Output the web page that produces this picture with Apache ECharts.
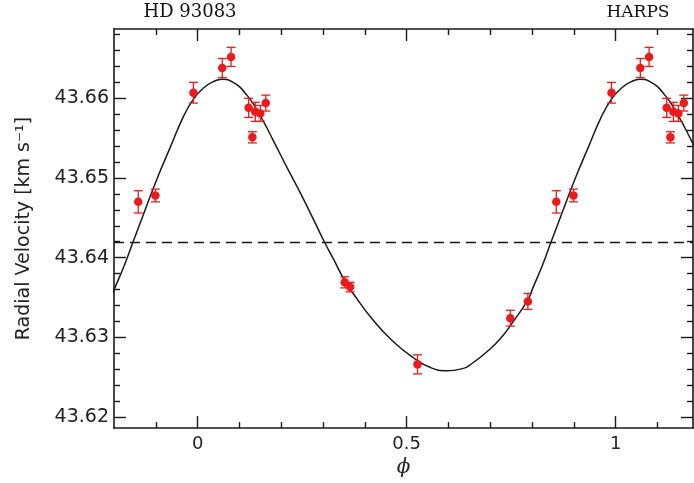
<!DOCTYPE html>
<html>
<head>
<meta charset="utf-8">
<script src="https://cdn.jsdelivr.net/npm/echarts@6/dist/echarts.min.js"></script>
<style>html,body{margin:0;padding:0;background:#fff;}#c{width:694px;height:483px;}</style>
</head>
<body>
<div id="c"></div>
<script>
// Observed data (phase in [0,1))
const phase = [0.059, 0.080, 0.122, 0.131, 0.138, 0.150, 0.163, 0.352, 0.365, 0.526, 0.748, 0.790, 0.858, 0.899, 0.990];
const rv    = [43.6638, 43.6652, 43.6588, 43.6551, 43.6583, 43.6581, 43.6594, 43.6369, 43.6363, 43.6266, 43.6324, 43.6345, 43.6470, 43.6478, 43.6607];
const rvErr = [0.0012, 0.0012, 0.0012, 0.0007, 0.0012, 0.0010, 0.0010, 0.0007, 0.0006, 0.0012, 0.0010, 0.0010, 0.0014, 0.0008, 0.0013];

// Fitted orbit curve over one period
const curvePhase = [0.014, 0.038, 0.058, 0.082, 0.118, 0.150, 0.182, 0.214, 0.246, 0.278, 0.304, 0.325, 0.356, 0.372, 0.419, 0.467, 0.517, 0.557, 0.597, 0.636, 0.651, 0.699, 0.730, 0.750, 0.790, 0.802, 0.826, 0.845, 0.871, 0.903, 0.935, 0.966, 0.990];
const curveRv    = [43.6613, 43.6621, 43.6624, 43.6621, 43.6604, 43.6578, 43.6546, 43.6513, 43.6481, 43.6447, 43.6419, 43.6398, 43.6367, 43.6355, 43.6322, 43.6295, 43.6274, 43.6262, 43.6258, 43.6261, 43.6265, 43.6285, 43.6302, 43.6316, 43.6347, 43.6362, 43.6392, 43.6419, 43.6455, 43.6499, 43.6539, 43.6577, 43.6599];

// Systemic velocity (dashed line)
const gamma = 43.6419;

// Axis ranges and ticks
const xMin = -0.2, xMax = 1.185;
const yMin = 43.6186, yMax = 43.6687;
const xMajorTicks = [0, 0.5, 1];
const xMinorTicks = [-0.1, 0.1, 0.2, 0.3, 0.4, 0.6, 0.7, 0.8, 0.9, 1.1];
const yMajorTicks = [43.62, 43.63, 43.64, 43.65, 43.66];
const yMinorTicks = [43.622, 43.624, 43.626, 43.628, 43.632, 43.634, 43.636, 43.638, 43.642, 43.644, 43.646, 43.648, 43.652, 43.654, 43.656, 43.658, 43.662, 43.664, 43.666, 43.668];

// Build plotted points: phase plus wrapped copies within the visible range
const pts = [];
phase.forEach((p, i) => {
  [p - 1, p, p + 1].forEach(q => {
    if (q >= xMin && q <= xMax) pts.push([q, rv[i], rvErr[i]]);
  });
});
// Curve repeated over neighbouring periods, sorted by phase
const curve = [];
curvePhase.forEach((p, i) => {
  [p - 1, p, p + 1].forEach(q => {
    if (q >= xMin - 0.03 && q <= xMax + 0.04) curve.push([q, curveRv[i]]);
  });
});
curve.sort((a, b) => a[0] - b[0]);

const ink = '#1a1a1a';
const red = '#ec1a1a';
const tickStyle = {color: ink, width: 1.4};

function xAxisDef(pos, vals, len, labels, line) {
  return {
    type: 'value', min: xMin, max: xMax, position: pos,
    axisLine: {show: line, onZero: false, lineStyle: {color: ink, width: 1.6}},
    axisTick: {show: true, inside: true, length: len, customValues: vals, lineStyle: tickStyle},
    axisLabel: labels ? {show: true, customValues: vals, color: '#222', fontSize: 18, fontFamily: 'DejaVu Sans', margin: 7,
      formatter: v => String(Math.round(v * 10) / 10)} : {show: false},
    splitLine: {show: false}
  };
}
function yAxisDef(pos, vals, len, labels, line) {
  return {
    type: 'value', min: yMin, max: yMax, position: pos,
    axisLine: {show: line, onZero: false, lineStyle: {color: ink, width: 1.6}},
    axisTick: {show: true, inside: true, length: len, customValues: vals, lineStyle: tickStyle},
    axisLabel: labels ? {show: true, customValues: vals, color: '#222', fontSize: 19, fontFamily: 'DejaVu Sans', margin: 5,
      formatter: v => v.toFixed(2)} : {show: false},
    splitLine: {show: false}
  };
}

const xAxes = [
  Object.assign(xAxisDef('bottom', xMajorTicks, 12, true, true), {
    name: 'ϕ', nameLocation: 'middle', nameGap: 27,
    nameTextStyle: {fontFamily: 'DejaVu Serif', fontStyle: 'italic', fontSize: 20, color: '#222'}
  }),
  xAxisDef('bottom', xMinorTicks, 6, false, false),
  xAxisDef('top', xMajorTicks, 12, false, true),
  xAxisDef('top', xMinorTicks, 6, false, false)
];
const yAxes = [
  Object.assign(yAxisDef('left', yMajorTicks, 12, true, true), {
    name: 'Radial Velocity [km s⁻¹]', nameLocation: 'middle', nameGap: 80, nameRotate: 90,
    nameTextStyle: {fontFamily: 'DejaVu Sans', fontSize: 19, color: '#222'}
  }),
  yAxisDef('left', yMinorTicks, 6, false, false),
  yAxisDef('right', yMajorTicks, 12, false, true),
  yAxisDef('right', yMinorTicks, 6, false, false)
];

const chart = echarts.init(document.getElementById('c'), null, {renderer: 'canvas'});
chart.setOption({
  animation: false,
  backgroundColor: '#fff',
  grid: {left: 114, right: 1, top: 29, bottom: 49, containLabel: false},
  xAxis: xAxes,
  yAxis: yAxes,
  graphic: [
    {type: 'text', x: 190, y: 12, style: {text: 'HD 93083', fontFamily: 'DejaVu Serif', fontSize: 18, fill: '#111', align: 'center', verticalAlign: 'middle'}},
    {type: 'text', x: 638, y: 13, style: {text: 'HARPS', fontFamily: 'DejaVu Serif', fontSize: 17, fill: '#111', align: 'center', verticalAlign: 'middle'}}
  ],
  series: [
    {
      type: 'line',
      xAxisIndex: 0, yAxisIndex: 0,
      data: [[xMin, gamma], [xMax, gamma]],
      showSymbol: false, clip: true,
      lineStyle: {color: ink, width: 1.4, type: [10, 6]},
      z: 2
    },
    {
      type: 'line',
      xAxisIndex: 0, yAxisIndex: 0,
      data: curve,
      showSymbol: false, smooth: 0.5, clip: true,
      lineStyle: {color: ink, width: 1.5},
      z: 2
    },
    {
      type: 'custom',
      xAxisIndex: 0, yAxisIndex: 0,
      data: pts,
      renderItem: function (params, api) {
        const x = api.value(0), y = api.value(1), e = api.value(2);
        const t = api.coord([x, y + e]);
        const b = api.coord([x, y - e]);
        const hw = 4.5;
        const st = {stroke: red, lineWidth: 1.3};
        return {
          type: 'group',
          children: [
            {type: 'line', shape: {x1: t[0], y1: t[1], x2: b[0], y2: b[1]}, style: st},
            {type: 'line', shape: {x1: t[0] - hw, y1: t[1], x2: t[0] + hw, y2: t[1]}, style: st},
            {type: 'line', shape: {x1: b[0] - hw, y1: b[1], x2: b[0] + hw, y2: b[1]}, style: st}
          ]
        };
      },
      z: 3
    },
    {
      type: 'scatter',
      xAxisIndex: 0, yAxisIndex: 0,
      data: pts.map(d => [d[0], d[1]]),
      symbol: 'circle', symbolSize: 8.5,
      itemStyle: {color: red, opacity: 1},
      z: 4
    }
  ]
});
</script>
</body>
</html>
